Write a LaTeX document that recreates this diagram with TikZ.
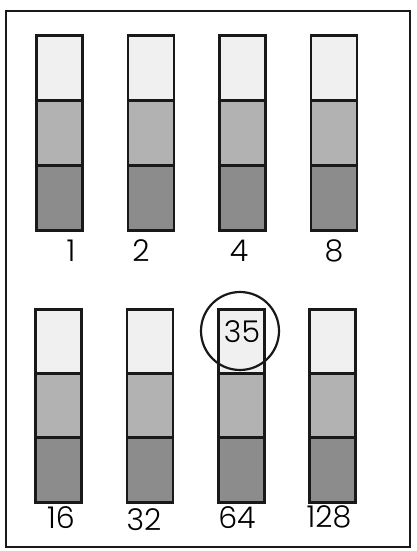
\documentclass[tikz,border=0pt]{standalone}
\usepackage{fontspec}
\setmainfont{Poppins Light}
\begin{document}
\begin{tikzpicture}[x=1pt,y=1pt,
  seg/.style={draw=black!90, line width=2.6pt, minimum width=46pt, minimum height=65pt, inner sep=0pt, outer sep=0pt},
  segA/.style={seg, fill=black!6},
  segB/.style={seg, fill=black!30},
  segC/.style={seg, fill=black!45},
  lbl/.style={font=\fontsize{30}{32}\selectfont, inner sep=0pt},
  frame/.style={draw=black!90, line width=2pt}]
\useasboundingbox (0,0) rectangle (417,551);
\node[frame, minimum width=404pt, minimum height=536pt, inner sep=0pt] (fr) at (208,272) {};
\foreach \n/\x in {1/59.5, 2/151, 3/242.5, 4/334}{
  \node[segA] (t\n a) at (\x,551-68) {};
  \node[segB] (t\n b) at (\x,551-133) {};
  \node[segC] (t\n c) at (\x,551-198) {};
}
\foreach \n/\x in {1/58.5, 2/150, 3/241.5, 4/332.5}{
  \node[segA] (b\n a) at (\x,551-342) {};
  \node[segB] (b\n b) at (\x,551-406) {};
  \node[segC] (b\n c) at (\x,551-470) {};
}
\node[lbl] (l1) at (71,551-251) {1};
\node[lbl] (l2) at (141,551-251) {2};
\node[lbl] (l4) at (239,551-251) {4};
\node[lbl] (l8) at (334,551-251) {8};
\node[lbl] (l16) at (61,551-518) {16};
\node[lbl] (l32) at (144,551-520) {32};
\node[lbl] (l64) at (237,551-518) {64};
\node[lbl] (l128) at (329,551-517) {128};
\node[draw=black!90, line width=2.2pt, circle, minimum size=78pt, inner sep=0pt] (circ) at (240,551-331) {};
\node[lbl] (n35) at (242,551-332) {35};
\end{tikzpicture}
\end{document}
